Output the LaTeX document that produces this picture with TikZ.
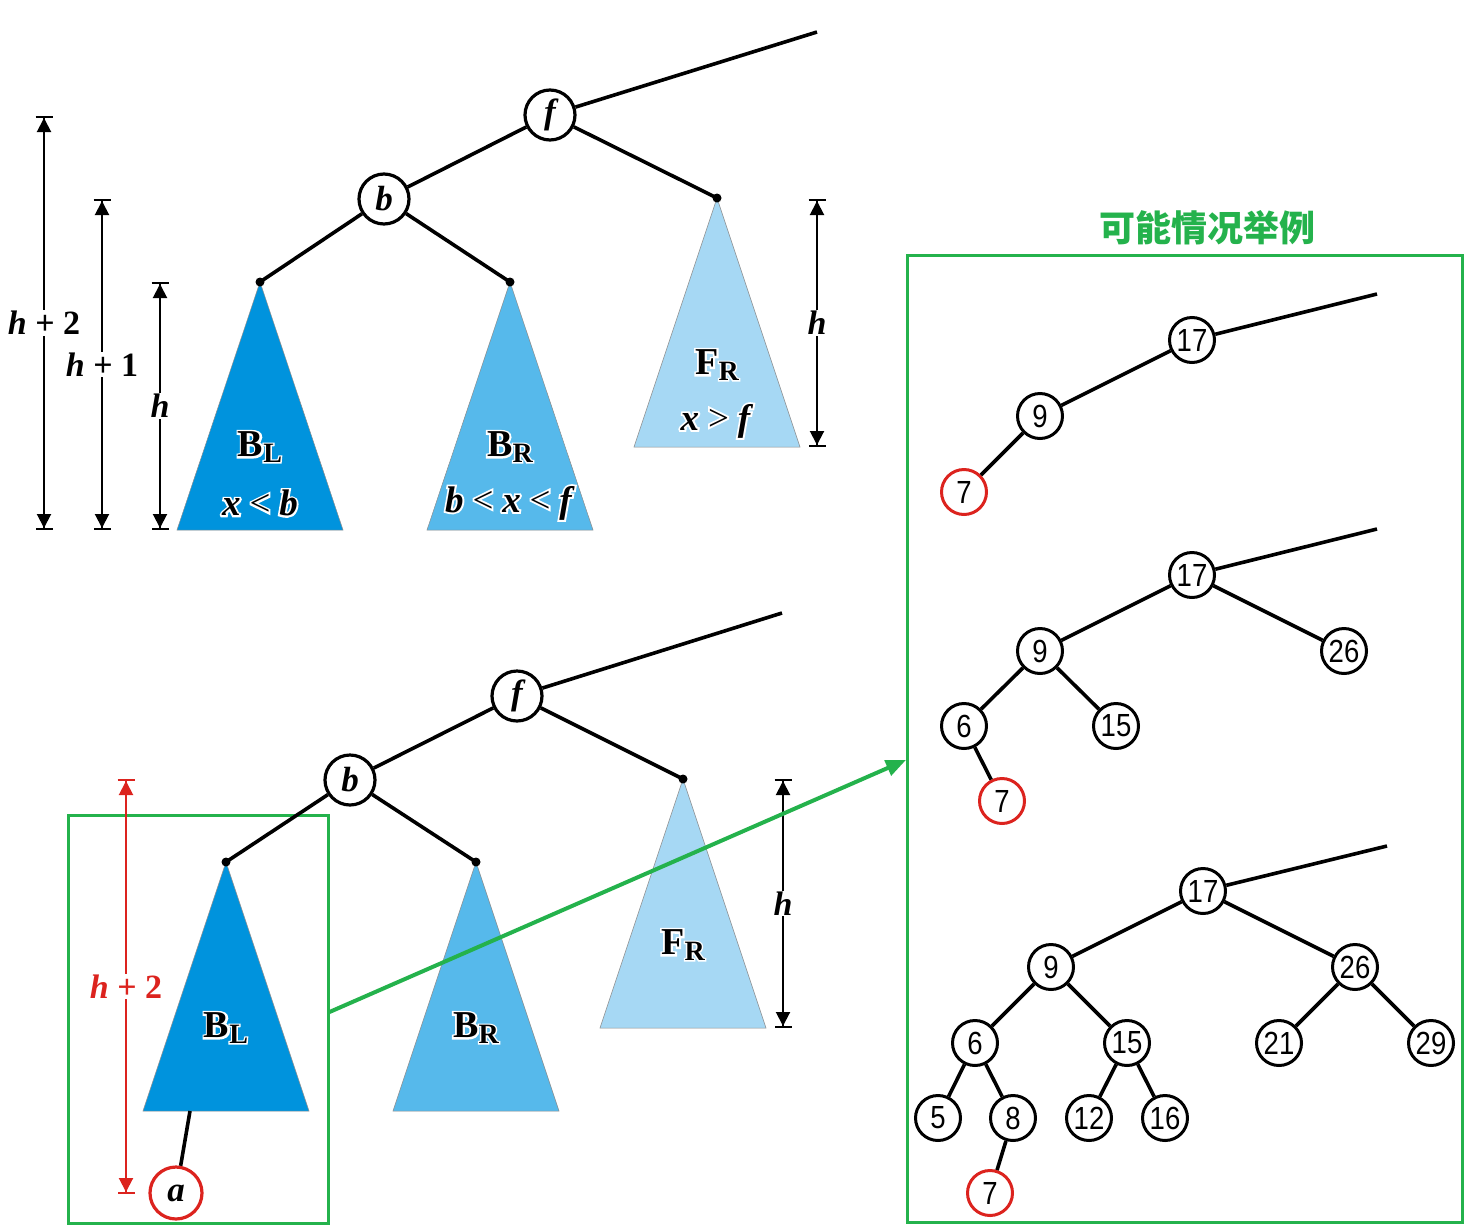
\documentclass[tikz,border=0pt]{standalone}
\usepackage{fontspec}
\setmainfont{Liberation Serif}
\newfontfamily\halofont{Liberation Serif}[FakeBold=10]
\newfontfamily\numfont{Liberation Sans}[FakeStretch=0.86]
\newfontfamily\cjk{Noto Sans CJK SC}
\usetikzlibrary{arrows.meta,calc}

\definecolor{blcol}{RGB}{0,147,221}
\definecolor{brcol}{RGB}{86,185,235}
\definecolor{frcol}{RGB}{166,216,244}
\definecolor{hired}{RGB}{220,35,30}
\definecolor{hgreen}{RGB}{36,178,76}

\newcommand\fsz[1]{\fontsize{#1}{#1}\selectfont}
\newcommand\bi[1]{\textbf{\textit{#1}}}
% text with a white outline: a heavily stroked white copy under the black one
\newcommand\halo[1]{\leavevmode\rlap{\color{white}\halofont #1}#1}
\newcommand\sublab[2]{\halo{\fsz{38}\textbf{#1\raisebox{-0.32ex}{\fsz{28}#2}}}}
\newcommand\condlab[1]{\halo{\fsz{37}#1}}
\newcommand\gap{\hspace{0.24em}}

\tikzset{
  lett/.style={circle, draw, line width=3.2pt, fill=white, minimum size=50pt, inner sep=0pt,
               font=\fsz{35}\bfseries\itshape},
  numnode/.style={circle, draw, line width=3pt, fill=white, minimum size=45pt, inner sep=0pt,
               font=\numfont\fsz{32}},
  rednum/.style={numnode, draw=hired},
  edge/.style={line width=3.6pt},
  apexdot/.style={fill=black},
  tri/.style={draw=black!45, line width=0.5pt},
  dim/.style={line width=2pt,
    {Bar[width=17pt]Triangle[width=14pt,length=14pt]}-{Triangle[width=14pt,length=14pt]Bar[width=17pt]}},
  dimlab/.style={fill=white, inner sep=1pt, font=\fsz{34}},
  gbox/.style={draw=hgreen, line width=3pt, inner sep=0pt},
  garrow/.style={draw=hgreen, line width=4pt, -{Triangle[width=16pt,length=20pt]}},
}

\begin{document}
\begin{tikzpicture}[x=1pt,y=-1pt]
\useasboundingbox (0,0) rectangle (1475,1229);

% ---------------- upper tree ----------------
\coordinate (bl1) at (260,282);
\coordinate (br1) at (510,282);
\coordinate (fr1) at (717,198);
\coordinate (up1) at (817,32);
\filldraw[tri, fill=blcol] (bl1) -- ++(-83,248) -- ++(166,0) -- cycle;
\filldraw[tri, fill=brcol] (br1) -- ++(-83,248) -- ++(166,0) -- cycle;
\filldraw[tri, fill=frcol] (fr1) -- ++(-83,249) -- ++(166,0) -- cycle;

\node[lett] (f1) at (550,115) {f};
\node[lett] (b1) at (384,199) {b};
\draw[edge] (f1) -- (up1);
\draw[edge] (f1) -- (b1);
\draw[edge] (f1) -- (fr1);
\draw[edge] (b1) -- (bl1);
\draw[edge] (b1) -- (br1);
\foreach \p in {bl1,br1,fr1} \fill[apexdot] (\p) circle (4.5);

\node (bll1) at (260,447) {\sublab{B}{L}};
\node (blc1) at (260,503) {\condlab{\bi{x}\gap<\gap\bi{b}}};
\node (brl1) at (510,447) {\sublab{B}{R}};
\node (brc1) at (510,503) {\condlab{\bi{b}\gap<\gap\bi{x}\gap<\gap\bi{f}}};
\node (frl1) at (717,365) {\sublab{F}{R}};
\node (frc1) at (717,421) {\condlab{\bi{x}\gap>\gap\bi{f}}};

% height marks
\coordinate (d2t) at (44,116);  \coordinate (d2b) at (44,530);
\coordinate (d1t) at (102,199); \coordinate (d1b) at (102,530);
\coordinate (d0t) at (160,282); \coordinate (d0b) at (160,530);
\coordinate (dft) at (817,199); \coordinate (dfb) at (817,447);
\draw[dim] (d2t) -- node[dimlab] (h2) {\bi{h} \textbf{+ 2}} (d2b);
\draw[dim] (d1t) -- node[dimlab] (h1) {\bi{h} \textbf{+ 1}} (d1b);
\draw[dim] (d0t) -- node[dimlab] (h0) {\bi{h}} (d0b);
\draw[dim] (dft) -- node[dimlab] (hf) {\bi{h}} (dfb);

% ---------------- lower tree ----------------
\coordinate (bl2) at (226,862);
\coordinate (br2) at (476,862);
\coordinate (fr2) at (683,779);
\coordinate (up2) at (782,613);
\filldraw[tri, fill=blcol] (bl2) -- ++(-83,249) -- ++(166,0) -- cycle;
\filldraw[tri, fill=brcol] (br2) -- ++(-83,249) -- ++(166,0) -- cycle;
\filldraw[tri, fill=frcol] (fr2) -- ++(-83,249) -- ++(166,0) -- cycle;

\node[gbox, minimum width=260pt, minimum height=408pt] (lbox) at (198,1019) {};
\node[gbox, minimum width=555pt, minimum height=967pt] (rbox) at (1184.5,738.5) {};

\node[lett] (f2) at (517,696) {f};
\node[lett] (b2) at (350,780) {b};
\node[lett, draw=hired, minimum size=52pt] (a2) at (176,1193) {a};
\coordinate (blb2) at (190,1111);
\draw[edge] (f2) -- (up2);
\draw[edge] (f2) -- (b2);
\draw[edge] (f2) -- (fr2);
\draw[edge] (b2) -- (bl2);
\draw[edge] (b2) -- (br2);
\draw[edge] (blb2) -- (a2);
\foreach \p in {bl2,br2,fr2} \fill[apexdot] (\p) circle (4.5);

\node (bll2) at (226,1028) {\sublab{B}{L}};
\node (brl2) at (476,1028) {\sublab{B}{R}};
\node (frl2) at (683,945) {\sublab{F}{R}};

\coordinate (drt) at (126,779); \coordinate (drb) at (126,1194);
\coordinate (dgt) at (783,779); \coordinate (dgb) at (783,1028);
\draw[dim, draw=hired, fill=hired] (drt) -- node[dimlab, text=hired] (hr) {\bi{h} \textbf{+ 2}} (drb);
\draw[dim] (dgt) -- node[dimlab] (hg) {\bi{h}} (dgb);

\coordinate (gend) at (906,760);
\draw[garrow] ($(lbox.east)+(0,-7)$) -- (gend);

% ---------------- examples ----------------
\node[text=hgreen, font=\cjk\bfseries\fsz{36}] (title) at (1207,228) {可能情况举例};

% example 1
\coordinate (e1up) at (1377,294);
\node[numnode] (e1n17) at (1192,340) {17};
\node[numnode] (e1n9)  at (1040,416) {9};
\node[rednum]  (e1n7)  at (964,492) {7};
\draw[edge] (e1n17) -- (e1up);
\draw[edge] (e1n17) -- (e1n9);
\draw[edge] (e1n9) -- (e1n7);

% example 2
\coordinate (e2up) at (1377,529);
\node[numnode] (e2n17) at (1192,575) {17};
\node[numnode] (e2n9)  at (1040,651) {9};
\node[numnode] (e2n26) at (1344,651) {26};
\node[numnode] (e2n6)  at (964,726) {6};
\node[numnode] (e2n15) at (1116,726) {15};
\node[rednum]  (e2n7)  at (1002,801) {7};
\draw[edge] (e2n17) -- (e2up);
\draw[edge] (e2n17) -- (e2n9);
\draw[edge] (e2n17) -- (e2n26);
\draw[edge] (e2n9) -- (e2n6);
\draw[edge] (e2n9) -- (e2n15);
\draw[edge] (e2n6) -- (e2n7);

% example 3
\coordinate (e3up) at (1387,846);
\node[numnode] (e3n17) at (1203,891) {17};
\node[numnode] (e3n9)  at (1051,967) {9};
\node[numnode] (e3n26) at (1355,967) {26};
\node[numnode] (e3n6)  at (975,1043) {6};
\node[numnode] (e3n15) at (1127,1043) {15};
\node[numnode] (e3n21) at (1279,1043) {21};
\node[numnode] (e3n29) at (1431,1043) {29};
\node[numnode] (e3n5)  at (938,1118) {5};
\node[numnode] (e3n8)  at (1013,1118) {8};
\node[numnode] (e3n12) at (1089,1118) {12};
\node[numnode] (e3n16) at (1165,1118) {16};
\node[rednum]  (e3n7)  at (990,1193) {7};
\draw[edge] (e3n17) -- (e3up);
\draw[edge] (e3n17) -- (e3n9);
\draw[edge] (e3n17) -- (e3n26);
\draw[edge] (e3n9) -- (e3n6);
\draw[edge] (e3n9) -- (e3n15);
\draw[edge] (e3n26) -- (e3n21);
\draw[edge] (e3n26) -- (e3n29);
\draw[edge] (e3n6) -- (e3n5);
\draw[edge] (e3n6) -- (e3n8);
\draw[edge] (e3n15) -- (e3n12);
\draw[edge] (e3n15) -- (e3n16);
\draw[edge] (e3n8) -- (e3n7);
\end{tikzpicture}
\end{document}
